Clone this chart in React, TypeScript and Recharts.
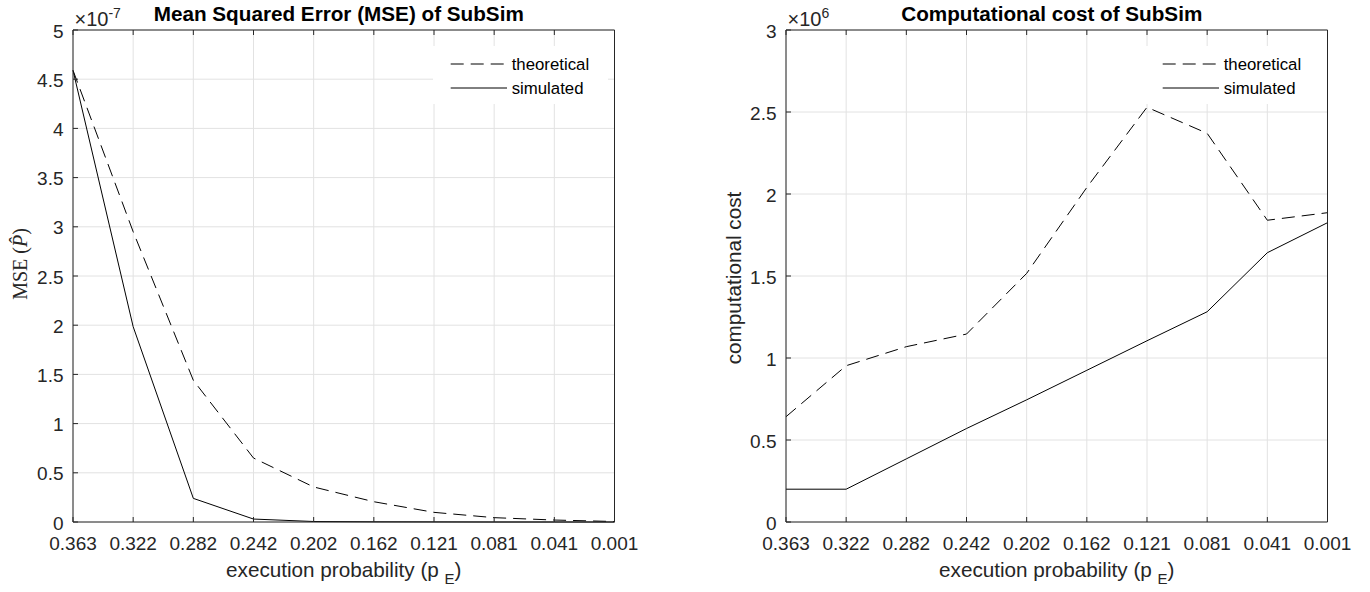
import React from 'react';
import { CartesianGrid, Label, Legend, Line, LineChart, XAxis, YAxis } from 'recharts';

// execution probability p_E (x axis categories)
const probabilities = ['0.363', '0.322', '0.282', '0.242', '0.202', '0.162', '0.121', '0.081', '0.041', '0.001'];

// MSE, in units of 1e-7
const mseTheoretical = [4.59, 2.95, 1.44, 0.65, 0.356, 0.206, 0.098, 0.044, 0.02, 0.005];
const mseSimulated = [4.59, 1.985, 0.24, 0.03, 0.005, 0.002, 0.001, 0, 0, 0];
const mseTicks = [0, 0.5, 1, 1.5, 2, 2.5, 3, 3.5, 4, 4.5, 5];

// computational cost, in units of 1e6
const costTheoretical = [0.642, 0.953, 1.069, 1.146, 1.516, 2.04, 2.529, 2.37, 1.84, 1.886];
const costSimulated = [0.2, 0.2, 0.385, 0.57, 0.745, 0.925, 1.105, 1.282, 1.642, 1.825];
const costTicks = [0, 0.5, 1, 1.5, 2, 2.5, 3];

const seriesNames = ['theoretical', 'simulated'];

const mseData = probabilities.map((p, i) => ({ p, theoretical: mseTheoretical[i], simulated: mseSimulated[i] }));
const costData = probabilities.map((p, i) => ({ p, theoretical: costTheoretical[i], simulated: costSimulated[i] }));

const FONT = '"Liberation Sans", Arial, Helvetica, sans-serif';
const SERIF = '"Liberation Serif", "DejaVu Serif", serif';
const AXIS = '#262626';
const GRID = '#e2e2e2';
const DASH = '13 7';
const TICK_FS = 19;
const LEGEND_W = 175;

// MATLAB-style ticks: pointing inward on all four sides
const BottomTick = (props: any) => {
  const { x, y, payload } = props;
  return (
    <g>
      <line x1={x} x2={x} y1={y} y2={y - 5} stroke={AXIS} />
      <text x={x} y={y + 28} textAnchor='middle' fill={AXIS} fontSize={TICK_FS} fontFamily={FONT}>
        {payload.value}
      </text>
    </g>
  );
};

const TopTick = (props: any) => {
  const { x, y } = props;
  return <line x1={x} x2={x} y1={y} y2={y + 5} stroke={AXIS} />;
};

const LeftTick = (props: any) => {
  const { x, y, payload } = props;
  return (
    <g>
      <line x1={x} x2={x + 5} y1={y} y2={y} stroke={AXIS} />
      <text x={x - 9.5} y={y + 7.5} textAnchor='end' fill={AXIS} fontSize={TICK_FS} fontFamily={FONT}>
        {String(payload.value)}
      </text>
    </g>
  );
};

const RightTick = (props: any) => {
  const { x, y } = props;
  return <line x1={x} x2={x - 5} y1={y} y2={y} stroke={AXIS} />;
};

const LegendBox = () => (
  <svg width={LEGEND_W} height={58} style={{ display: 'block' }}>
    <rect x={0} y={0} width={LEGEND_W} height={58} fill='#fff' />
    {seriesNames.map((name, i) => (
      <g key={name}>
        <line
          x1={17.7}
          x2={74}
          y1={18 + i * 24}
          y2={18 + i * 24}
          stroke='#000'
          strokeDasharray={i === 0 ? DASH : undefined}
        />
        <text x={78.7} y={18 + i * 24} dominantBaseline='central' fontSize={16.8} fontFamily={FONT} fill='#000'>
          {name}
        </text>
      </g>
    ))}
  </svg>
);

const Title = (text: string) => (props: any) => {
  const vb = props.viewBox;
  return (
    <text x={vb.x + vb.width / 2 - 5} y={vb.y + vb.height - 9.5} textAnchor='middle' fontSize={20.7} fontWeight='bold' fontFamily={FONT} fill='#000'>
      {text}
    </text>
  );
};

const Exponent = (exp: string) => (props: any) => {
  const vb = props.viewBox;
  const x0 = vb.x + vb.width + 1.5;
  return (
    <text x={x0} y={vb.y - 4} fontSize={20} fontFamily={FONT} fill={AXIS}>
      {'\u00d710'}
      <tspan dy={-8} fontSize={14}>{exp}</tspan>
    </text>
  );
};

const XLabel = (props: any) => {
  const vb = props.viewBox;
  return (
    <text x={vb.x + vb.width / 2} y={vb.y + 55} textAnchor='middle' fontSize={20.7} fontFamily={FONT} fill={AXIS}>
      {'execution probability (p\u00a0'}
      <tspan dy={7} fontSize={15}>E</tspan>
      <tspan dy={-7}>)</tspan>
    </text>
  );
};

const MseLabel = (props: any) => {
  const vb = props.viewBox;
  const cx = 20;
  const cy = vb.y + vb.height / 2 - 12;
  return (
    <text
      x={cx}
      y={cy}
      transform={`rotate(-90, ${cx}, ${cy})`}
      textAnchor='middle'
      dominantBaseline='central'
      fontSize={20}
      fontFamily={SERIF}
      fill={AXIS}
    >
      {'MSE\u00a0('}
      <tspan fontStyle='italic'>{'P\u0302'}</tspan>
      {')'}
    </text>
  );
};

const CostLabel = (props: any) => {
  const vb = props.viewBox;
  const cx = 48;
  const cy = vb.y + vb.height / 2 + 2;
  return (
    <text
      x={cx}
      y={cy}
      transform={`rotate(-90, ${cx}, ${cy})`}
      textAnchor='middle'
      dominantBaseline='central'
      fontSize={20.7}
      fontFamily={FONT}
      fill={AXIS}
    >
      computational cost
    </text>
  );
};

type PanelProps = {
  data: { p: string; theoretical: number; simulated: number }[];
  ticks: number[];
  yWidth: number;
  marginRight: number;
  title: string;
  exponent: string;
  yLabel: (props: any) => React.ReactNode;
  legendLeft: number;
};

function Panel({ data, ticks, yWidth, marginRight, title, exponent, yLabel, legendLeft }: PanelProps) {
  const domain: [number, number] = [ticks[0], ticks[ticks.length - 1]];
  return (
    <LineChart width={685} height={592} data={data} margin={{ top: 29, right: marginRight - 1, bottom: 0, left: 0 }}>
      <CartesianGrid stroke={GRID} />
      <XAxis
        dataKey='p'
        type='category'
        height={70}
        tickSize={0}
        tickMargin={0}
        tickLine={false}
        tick={BottomTick}
        axisLine={{ stroke: AXIS }}
        interval={0}
      >
        <Label content={XLabel} />
      </XAxis>
      <XAxis
        xAxisId='top'
        dataKey='p'
        type='category'
        orientation='top'
        height={1}
        tickSize={0}
        tickMargin={0}
        tickLine={false}
        tick={TopTick}
        axisLine={{ stroke: AXIS }}
        interval={0}
      >
        <Label content={Title(title)} />
      </XAxis>
      <YAxis
        type='number'
        domain={domain}
        ticks={ticks}
        width={yWidth}
        tickSize={0}
        tickMargin={0}
        tickLine={false}
        tick={LeftTick}
        axisLine={{ stroke: AXIS }}
        interval={0}
      >
        <Label content={Exponent(exponent)} />
        <Label content={yLabel} />
      </YAxis>
      <YAxis
        yAxisId='right'
        orientation='right'
        type='number'
        domain={domain}
        ticks={ticks}
        width={1}
        tickSize={0}
        tickMargin={0}
        tickLine={false}
        tick={RightTick}
        axisLine={{ stroke: AXIS }}
        interval={0}
      />
      <Line
        dataKey='theoretical'
        name='theoretical'
        stroke='#000'
        strokeWidth={1}
        strokeDasharray={DASH}
        dot={false}
        activeDot={false}
        isAnimationActive={false}
      />
      <Line
        dataKey='simulated'
        name='simulated'
        stroke='#000'
        strokeWidth={1}
        dot={false}
        activeDot={false}
        isAnimationActive={false}
      />
      <Legend
        layout='vertical'
        align='center'
        verticalAlign='middle'
        content={LegendBox}
        wrapperStyle={{ position: 'absolute', left: legendLeft, top: 46, width: LEGEND_W, height: 58 }}
      />
    </LineChart>
  );
}

export default function App() {
  return (
    <div style={{ position: 'absolute', left: 0, top: 0, width: 1370, height: 592, background: '#fff', display: 'flex' }}>
      <Panel
        data={mseData}
        ticks={mseTicks}
        yWidth={73}
        marginRight={70.5}
        title='Mean Squared Error (MSE) of SubSim'
        exponent='-7'
        yLabel={MseLabel}
        legendLeft={433}
      />
      <Panel
        data={costData}
        ticks={costTicks}
        yWidth={101}
        marginRight={42.5}
        title='Computational cost of SubSim'
        exponent='6'
        yLabel={CostLabel}
        legendLeft={460}
      />
    </div>
  );
}
